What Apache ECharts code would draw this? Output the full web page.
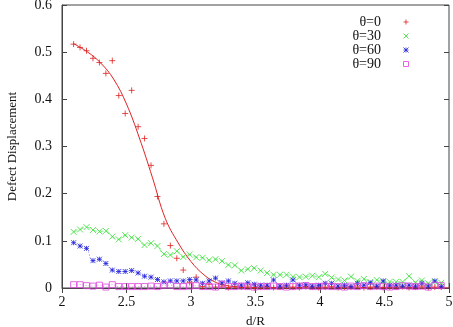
<!DOCTYPE html>
<html>
<head>
    <meta charset="utf-8">
    <title>Defect Displacement</title>
    <script src="https://cdn.jsdelivr.net/npm/echarts@6/dist/echarts.min.js"></script>
    <style>
        body { margin: 0; background: #fff; }
    </style>
</head>
<body>
    <div id="main" style="width: 453px;height:327px;"></div>
    <script type="text/javascript">
        // d/R sample positions, shared by all four data sets
        var dR = [2.09, 2.14, 2.19, 2.24, 2.29, 2.34, 2.39, 2.44, 2.49, 2.54,
                  2.59, 2.64, 2.69, 2.74, 2.79, 2.84, 2.89, 2.94, 2.99, 3.04,
                  3.09, 3.14, 3.19, 3.24, 3.29, 3.34, 3.39, 3.44, 3.49, 3.54,
                  3.59, 3.64, 3.69, 3.74, 3.79, 3.84, 3.89, 3.94, 3.99, 4.04,
                  4.09, 4.14, 4.19, 4.24, 4.29, 4.34, 4.39, 4.44, 4.49, 4.54,
                  4.59, 4.64, 4.69, 4.74, 4.79, 4.84, 4.89, 4.94];

        var theta0 = [0.517, 0.510, 0.503, 0.487, 0.478, 0.455, 0.482, 0.408, 0.370, 0.419,
                      0.342, 0.317, 0.260, 0.194, 0.136, 0.090, 0.063, 0.038, 0.012, 0.023,
                      0.003, 0.008, 0.002, 0.004, 0.001, 0.003, 0.002, 0.004, 0.001, 0.002,
                      0.003, 0.001, 0.002, 0.004, 0.002, 0.001, 0.003, 0.002, 0.001, 0.002,
                      0.003, 0.001, 0.002, 0.002, 0.004, 0.001, 0.002, 0.003, 0.001, 0.002,
                      0.002, 0.003, 0.001, 0.002, 0.004, 0.001, 0.002, 0.002];

        var theta30 = [0.119, 0.124, 0.129, 0.123, 0.120, 0.121, 0.109, 0.103, 0.112, 0.107,
                       0.104, 0.091, 0.095, 0.089, 0.072, 0.070, 0.078, 0.066, 0.071, 0.065,
                       0.064, 0.059, 0.061, 0.057, 0.049, 0.048, 0.037, 0.040, 0.042, 0.037,
                       0.032, 0.028, 0.028, 0.028, 0.024, 0.023, 0.024, 0.026, 0.023, 0.030,
                       0.022, 0.018, 0.016, 0.024, 0.015, 0.019, 0.013, 0.017, 0.013, 0.013,
                       0.013, 0.013, 0.025, 0.012, 0.016, 0.010, 0.013, 0.011];

        var theta60 = [0.096, 0.089, 0.084, 0.058, 0.061, 0.052, 0.038, 0.035, 0.035, 0.037,
                       0.032, 0.025, 0.023, 0.018, 0.013, 0.015, 0.015, 0.015, 0.018, 0.017,
                       0.010, 0.015, 0.021, 0.011, 0.015, 0.010, 0.006, 0.011, 0.008, 0.006,
                       0.006, 0.017, 0.004, 0.006, 0.017, 0.006, 0.007, 0.004, 0.006, 0.010,
                       0.010, 0.004, 0.006, 0.003, 0.010, 0.006, 0.011, 0.004, 0.015, 0.006,
                       0.006, 0.004, 0.006, 0.004, 0.010, 0.004, 0.015, 0.003];

        var theta90 = [0.007, 0.007, 0.005, 0.004, 0.006, 0.002, 0.007, 0.003, 0.003, 0.003,
                       0.003, 0.003, 0.004, 0.003, 0.006, 0.006, 0.003, 0.003, 0.004, 0.005,
                       0.003, 0.003, 0.002, 0.008, 0.003, 0.003, 0.004, 0.003, 0.002, 0.003,
                       0.003, 0.004, 0.003, 0.002, 0.003, 0.004, 0.005, 0.003, 0.003, 0.004,
                       0.003, 0.003, 0.002, 0.004, 0.003, 0.005, 0.003, 0.004, 0.003, 0.002,
                       0.003, 0.005, 0.004, 0.003, 0.004, 0.002, 0.006, 0.005];

        // fitted curve for theta=0
        var fitX = [2.09, 2.2, 2.3, 2.4, 2.5, 2.6, 2.7, 2.8, 2.9, 3.0, 3.1, 3.2, 3.3, 3.4, 3.5, 4.0, 4.5, 5.0];
        var fitY = [0.518, 0.500, 0.477, 0.443, 0.390, 0.318, 0.235, 0.148, 0.096, 0.056, 0.028, 0.011, 0.004, 0.001, 0, 0, 0, 0];

        var names = ['θ=0', 'θ=30', 'θ=60', 'θ=90'];
        var sets = [theta0, theta30, theta60, theta90];
        var colors = ['#dd2222', '#33dd33', '#2222dd', '#dd44dd'];
        var symbols = [
            'path://M5 0V10M0 5H10',
            'path://M0 0L10 10M10 0L0 10',
            'path://M0 0L10 10M10 0L0 10M5 0V10M0 5H10',
            'path://M0 0H10V10H0Z'
        ];
        var xTicks = [2, 2.5, 3, 3.5, 4, 4.5, 5];

        function pairs(xv, yv) {
            var out = [];
            for (var i = 0; i < yv.length; i++) {
                out.push([xv[i], yv[i]]);
            }
            return out;
        }

        var serif = '"Liberation Serif", "DejaVu Serif", serif';
        var myChart = echarts.init(document.getElementById('main'));

        var series = [];
        // thin fit lines behind the points
        series.push({
            name: 'fit0', type: 'line', data: pairs(fitX, fitY), smooth: 0.4,
            showSymbol: false, silent: true,
            lineStyle: { color: colors[0], width: 1 }, z: 1
        });
        for (var k = 1; k < 4; k++) {
            series.push({
                name: 'fit' + k * 30, type: 'line', data: pairs(dR, sets[k]), smooth: 0.5,
                showSymbol: false, silent: true,
                lineStyle: { color: colors[k], width: 1, type: k == 1 ? [4, 3] : [1, 2], opacity: 0.6 },
                z: 1
            });
        }
        for (var k = 0; k < 4; k++) {
            series.push({
                name: names[k], type: 'scatter', data: pairs(dR, sets[k]),
                symbol: symbols[k], symbolSize: k == 2 ? 5 : 6,
                itemStyle: { color: 'none', borderColor: colors[k], borderWidth: 1 },
                z: 3 + k
            });
        }

        var option = {
            animation: false,
            grid: { left: 62, right: 4, top: 5, bottom: 39, outerBoundsMode: 'none',
                    show: true, borderColor: '#444', borderWidth: 1 },
            legend: {
                orient: 'vertical', align: 'right', right: 37, top: 10,
                itemWidth: 5, itemHeight: 5, itemGap: 0,
                data: names.map(function (n, i) {
                    return { name: n, icon: symbols[i],
                             itemStyle: { color: 'none', borderColor: colors[i], borderWidth: 1 } };
                }),
                formatter: function (n) { return n + '     '; },
                textStyle: { fontFamily: serif, fontSize: 14, lineHeight: 13.3, color: '#111' }
            },
            xAxis: [{
                type: 'value', min: 2, max: 5, interval: 0.5,
                name: 'd/R', nameLocation: 'middle', nameGap: 27,
                nameTextStyle: { fontFamily: serif, fontSize: 13, color: '#111' },
                axisLine: { lineStyle: { color: '#444' } },
                axisTick: { inside: true, length: 5, lineStyle: { color: '#444' } },
                axisLabel: { fontFamily: serif, fontSize: 14, color: '#111', margin: 7,
                             formatter: function (v) { return xTicks.indexOf(v) >= 0 ? String(v) : ''; } },
                splitLine: { show: false }
            }, {
                type: 'value', min: 2, max: 5, interval: 0.5, position: 'top',
                axisLine: { show: false },
                axisTick: { inside: true, length: 5, lineStyle: { color: '#444' } },
                axisLabel: { show: false }, splitLine: { show: false }
            }],
            yAxis: [{
                type: 'value', min: 0, max: 0.6, interval: 0.1,
                name: 'Defect Displacement', nameLocation: 'middle', nameGap: 43,
                nameTextStyle: { fontFamily: serif, fontSize: 13, color: '#111' },
                axisLine: { show: true, lineStyle: { color: '#444' } },
                axisTick: { inside: true, length: 5, lineStyle: { color: '#444' } },
                axisLabel: { fontFamily: serif, fontSize: 14, color: '#111', margin: 10,
                             formatter: function (v) { return String(Math.round(v * 10) / 10); } },
                splitLine: { show: false }
            }, {
                type: 'value', min: 0, max: 0.6, interval: 0.1, position: 'right',
                axisLine: { show: false },
                axisTick: { inside: true, length: 5, lineStyle: { color: '#444' } },
                axisLabel: { show: false }, splitLine: { show: false }
            }],
            series: series
        };

        myChart.setOption(option);
    </script>
</body>
</html>
